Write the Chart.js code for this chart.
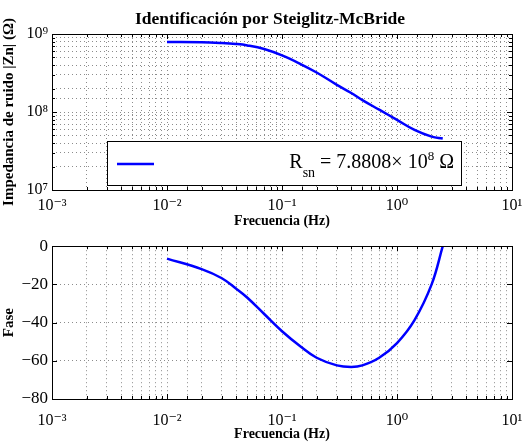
<!DOCTYPE html>
<html>
<head>
<meta charset="utf-8">
<script src="https://cdn.jsdelivr.net/npm/chart.js@4"></script>
<style>
  body { margin: 0; background: #fff; }
  #wrapMag { position: absolute; left: 0; top: 0; width: 525px; height: 232px; }
  #wrapPhase { position: absolute; left: 0; top: 232px; width: 525px; height: 213px; }
</style>
</head>
<body>
<div id="wrapMag"><canvas id="magChart"></canvas></div>
<div id="wrapPhase"><canvas id="phaseChart"></canvas></div>
<script>
// values
const freqs = [0.01, 0.02, 0.03, 0.04, 0.05, 0.07, 0.1, 0.145, 0.2, 0.3, 0.4, 0.5, 0.7, 1, 1.42, 2, 2.5];
const magnitudes = [7.88e8, 7.84e8, 7.66e8, 7.44e8, 7.14e8, 6.41e8, 5.31e8, 4.12e8, 3.21e8, 2.23e8, 1.75e8, 1.42e8, 1.07e8, 7.93e7, 5.90e7, 4.84e7, 4.56e7];
const phases = [-6.5, -12, -16.8, -22.3, -27, -35.5, -44.5, -52.5, -58.4, -62.4, -63.2, -62.4, -58.4, -50.7, -38.7, -20, 0];

const xTickValues = [0.001, 0.01, 0.1, 1, 10];
const xTickLabels = ["10\u207B\u00B3", "10\u207B\u00B2", "10\u207B\u00B9", "10\u2070", "10\u00B9"];
const magTickValues = [1e7, 1e8, 1e9];
const magTickLabels = ["10\u2077", "10\u2078", "10\u2079"];
const phaseTickValues = [-80, -60, -40, -20, 0];
const phaseTickLabels = ["\u221280", "\u221260", "\u221240", "\u221220", "0"];

const chartTitle = "Identificaci\u00F3n por Steiglitz-McBride";
const legendValue = "7.8808";
const legendExp = "8";

const serif = "'Liberation Serif', 'DejaVu Serif', serif";
const gridColor = "rgba(0,0,0,0.45)";

const logLabel = (values, labels) => (v) => {
  const i = values.findIndex(t => Math.abs(Math.log10(v) - Math.log10(t)) < 1e-6);
  return i >= 0 ? labels[i] : "";
};
const isPower = (v) => Math.abs(Math.log10(v) - Math.round(Math.log10(v))) < 1e-6;

// black frame with inward ticks, like the original plot
const boxPlugin = {
  id: "box",
  afterDraw(chart) {
    const { ctx, chartArea: a, scales } = chart;
    ctx.save();
    ctx.strokeStyle = "#000";
    ctx.lineWidth = 1;
    ctx.beginPath();
    scales.x.ticks.forEach((t, i) => {
      const px = Math.round(scales.x.getPixelForTick(i)) + 0.5;
      const len = isPower(t.value) ? 5 : 3;
      ctx.moveTo(px, a.bottom); ctx.lineTo(px, a.bottom - len);
      ctx.moveTo(px, a.top); ctx.lineTo(px, a.top + len);
    });
    const ys = scales.y;
    ys.ticks.forEach((t, i) => {
      const py = Math.round(ys.getPixelForTick(i)) + 0.5;
      const len = ys.type === "logarithmic" && !isPower(t.value) ? 3 : 5;
      ctx.moveTo(a.left, py); ctx.lineTo(a.left + len, py);
      ctx.moveTo(a.right, py); ctx.lineTo(a.right - len, py);
    });
    ctx.stroke();
    ctx.strokeRect(Math.round(a.left) + 0.5, Math.round(a.top) + 0.5,
                   Math.round(a.width), Math.round(a.height));
    ctx.restore();
  }
};

// title + legend box for the magnitude plot
const magDecor = {
  id: "magDecor",
  afterDatasetsDraw(chart) {
    const { ctx, chartArea: a } = chart;
    ctx.save();
    ctx.fillStyle = "#000";
    ctx.font = "bold 17.5px " + serif;
    ctx.textAlign = "center";
    ctx.textBaseline = "middle";
    ctx.fillText(chartTitle, (a.left + a.right) / 2 - 12, a.top - 15);
    ctx.textAlign = "left";

    const left = a.left + 55, right = a.right - 51;
    const top = a.bottom - 49, bottom = a.bottom - 5;
    ctx.fillStyle = "#fff";
    ctx.fillRect(left, top, right - left, bottom - top);
    ctx.strokeStyle = "#000";
    ctx.lineWidth = 1;
    ctx.strokeRect(Math.round(left) + 0.5, Math.round(top) + 0.5, Math.round(right - left), Math.round(bottom - top));
    ctx.strokeStyle = chart.data.datasets[0].borderColor;
    ctx.lineWidth = 2.5;
    ctx.beginPath();
    ctx.moveTo(left + 10, top + 23);
    ctx.lineTo(left + 47, top + 23);
    ctx.stroke();

    const base = top + 27;
    const parts = [
      { t: "R", size: 20, dy: 0 },
      { t: "sn", size: 14, dy: 9 },
      { t: " = " + legendValue + "\u00D7 10", size: 20, dy: 0 },
      { t: legendExp, size: 13, dy: -8 },
      { t: " \u03A9", size: 20, dy: 0 }
    ];
    let w = 0;
    parts.forEach(p => { ctx.font = p.size + "px " + serif; p.w = ctx.measureText(p.t).width; w += p.w; });
    let x = right - 7 - w;
    ctx.fillStyle = "#000";
    ctx.textBaseline = "alphabetic";
    parts.forEach(p => {
      ctx.font = p.size + "px " + serif;
      ctx.fillText(p.t, x, base + p.dy);
      x += p.w;
    });
    ctx.restore();
  }
};

const xScale = (height, gap) => ({
  type: "logarithmic",
  min: 0.001,
  max: 10,
  afterFit: (s) => { s.height = height; },
  grid: { color: gridColor, drawTicks: true, tickLength: gap, tickColor: "rgba(0,0,0,0)" },
  border: { display: false, dash: [1, 3] },
  ticks: {
    autoSkip: false,
    maxRotation: 0,
    padding: 2,
    color: "#000",
    font: { family: serif, size: 16 },
    callback: logLabel(xTickValues, xTickLabels)
  },
  title: {
    display: true,
    text: "Frecuencia (Hz)",
    color: "#000",
    font: { family: serif, size: 14, weight: "bold" },
    padding: { top: 0, bottom: 2 }
  }
});

const lineStyle = {
  borderColor: "#0000ff",
  borderWidth: 2.5,
  pointRadius: 0,
  tension: 0.4
};

const magCtx = document.getElementById("magChart").getContext("2d");
new Chart(magCtx, {
  type: "line",
  data: {
    datasets: [{
      label: "Rsn",
      data: freqs.map((f, i) => ({ x: f, y: magnitudes[i] })),
      ...lineStyle
    }]
  },
  options: {
    responsive: true,
    maintainAspectRatio: false,
    animation: false,
    layout: { padding: { top: 34, right: 13 } },
    plugins: {
      legend: { display: false },
      tooltip: { enabled: false }
    },
    scales: {
      x: xScale(42, 4),
      y: {
        type: "logarithmic",
        min: 1e7,
        max: 1e9,
        afterFit: (s) => { s.width = 52; },
        grid: { color: gridColor, drawTicks: false },
        border: { display: false, dash: [1, 3] },
        ticks: {
          autoSkip: false,
          padding: 4,
          color: "#000",
          font: { family: serif, size: 16 },
          callback: logLabel(magTickValues, magTickLabels)
        },
        title: {
          display: true,
          text: "Impedancia de ruido |Zn| (\u03A9)",
          color: "#000",
          font: { family: serif, size: 15, weight: "bold" },
          padding: { top: 0, bottom: 0 }
        }
      }
    }
  },
  plugins: [magDecor, boxPlugin]
});

const phaseCtx = document.getElementById("phaseChart").getContext("2d");
new Chart(phaseCtx, {
  type: "line",
  data: {
    datasets: [{
      label: "Fase",
      data: freqs.map((f, i) => ({ x: f, y: phases[i] })),
      ...lineStyle
    }]
  },
  options: {
    responsive: true,
    maintainAspectRatio: false,
    animation: false,
    layout: { padding: { top: 13, right: 13 } },
    plugins: {
      legend: { display: false },
      tooltip: { enabled: false }
    },
    scales: {
      x: xScale(46, 10),
      y: {
        min: -80,
        max: 0,
        afterFit: (s) => { s.width = 52; },
        grid: { color: gridColor, drawTicks: false },
        border: { display: false, dash: [1, 3] },
        ticks: {
          stepSize: 20,
          padding: 4,
          color: "#000",
          font: { family: serif, size: 17 },
          callback: (v) => {
            const i = phaseTickValues.indexOf(v);
            return i >= 0 ? phaseTickLabels[i] : "";
          }
        },
        title: {
          display: true,
          text: "Fase",
          color: "#000",
          font: { family: serif, size: 15, weight: "bold" },
          padding: { top: 0, bottom: 4 }
        }
      }
    }
  },
  plugins: [boxPlugin]
});
</script>
</body>
</html>
